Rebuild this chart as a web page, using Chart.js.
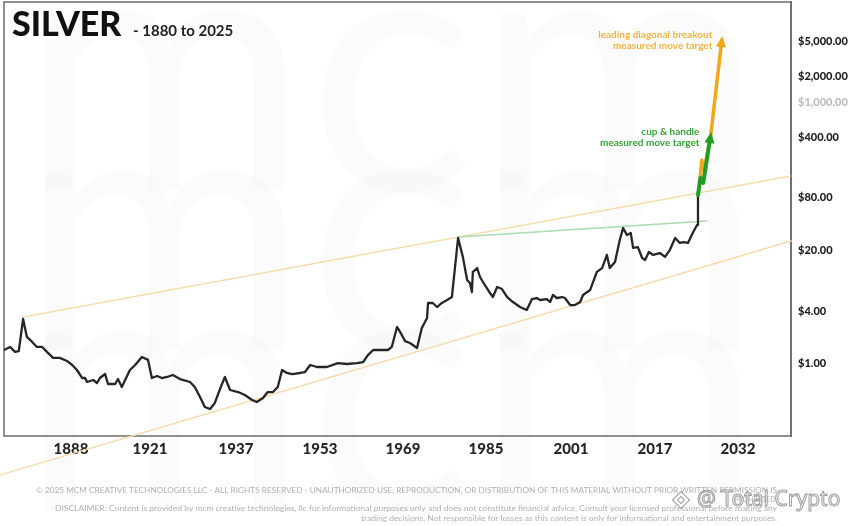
<!DOCTYPE html>
<html>
<head>
<meta charset="utf-8">
<title>Silver 1880 to 2025</title>
<script src="https://cdn.jsdelivr.net/npm/chart.js@4.4.1/dist/chart.umd.min.js"></script>
<style>
  html, body { margin: 0; padding: 0; background: #fff; }
  #wrap { width: 864px; height: 526px; position: relative; }
</style>
</head>
<body>
<div id="wrap"><canvas id="silverChart"></canvas></div>
<script>
// silver price, log scale
const priceYears = [
  1880.0, 1881.3, 1882.3, 1883.1, 1884.0, 1884.8, 1885.9, 1886.9, 1888.0, 1889.0,
  1890.3, 1891.7, 1893.2, 1894.3, 1895.3, 1896.4, 1897.0, 1897.4, 1898.7, 1899.5,
  1900.1, 1901.2, 1901.8, 1903.3, 1903.9, 1904.7, 1905.4, 1906.4, 1907.5, 1908.9,
  1910.2, 1911.0, 1912.1, 1913.1, 1914.2, 1915.4, 1916.9, 1919.0, 1920.0, 1921.1,
  1922.1, 1923.2, 1924.2, 1925.3, 1926.3, 1927.4, 1929.1, 1930.5, 1932.0, 1933.0,
  1934.3, 1935.3, 1936.4, 1937.4, 1938.3, 1939.3, 1940.4, 1942.1, 1943.1, 1944.2,
  1945.6, 1947.7, 1950.0, 1951.9, 1954.0, 1955.3, 1956.3, 1957.4, 1959.2, 1960.5,
  1961.3, 1962.4, 1963.4, 1964.1, 1965.1, 1966.6, 1967.6, 1968.7, 1968.9, 1969.9,
  1970.8, 1971.8, 1972.9, 1973.9, 1975.2, 1976.2, 1977.1, 1977.7, 1978.1, 1978.3,
  1979.2, 1979.8, 1980.8, 1981.9, 1982.5, 1983.4, 1984.4, 1985.5, 1986.7, 1988.2,
  1989.6, 1990.7, 1991.7, 1992.4, 1993.8, 1994.5, 1995.1, 1995.9, 1997.0, 1997.6,
  1998.7, 1999.7, 2000.8, 2001.4, 2002.9, 2004.3, 2005.4, 2006.4, 2007.0, 2008.1,
  2009.1, 2009.8, 2010.6, 2011.4, 2011.9, 2012.9, 2013.8, 2014.4, 2015.2, 2016.1,
  2017.5, 2018.6, 2019.6, 2020.7, 2021.7, 2022.4, 2023.4, 2024.4, 2025.3, 2025.5
];
const priceValues = [
  1.43, 1.55, 1.36, 1.39, 3.25, 2.02, 1.77, 1.55, 1.55, 1.36,
  1.16, 1.16, 1.07, 0.961, 0.842, 0.681, 0.681, 0.613, 0.646, 0.597,
  0.681, 0.757, 0.581, 0.581, 0.663, 0.537, 0.646, 0.842, 0.961, 1.19,
  1.10, 0.681, 0.718, 0.681, 0.700, 0.738, 0.663, 0.613, 0.537, 0.412,
  0.316, 0.300, 0.352, 0.510, 0.700, 0.496, 0.470, 0.434, 0.381, 0.361,
  0.401, 0.470, 0.470, 0.537, 0.842, 0.778, 0.757, 0.778, 0.798, 0.961,
  0.912, 0.912, 1.01, 0.987, 1.01, 1.04, 1.25, 1.43, 1.43, 1.43,
  1.55, 2.63, 2.13, 1.81, 1.72, 1.51, 2.56, 3.33, 4.96, 4.96,
  4.46, 4.96, 5.37, 5.81, 27.7, 16.8, 9.12, 8.42, 6.63, 11.3,
  12.5, 9.87, 7.99, 6.46, 5.81, 7.57, 7.18, 5.81, 5.09, 4.46,
  4.12, 5.51, 5.66, 5.37, 5.51, 5.09, 6.13, 5.66, 5.81, 5.66,
  4.70, 4.70, 5.09, 6.13, 7.00, 11.3, 12.5, 17.7, 12.5, 14.7,
  26.3, 36.1, 30.0, 31.6, 21.3, 21.8, 16.3, 15.5, 19.1, 17.7,
  18.6, 16.8, 20.2, 27.7, 24.3, 24.9, 24.3, 31.6, 39.1, 86.5
];

// cup & handle projection (green) and leading diagonal projection (orange)
const cupYears = [2025.5, 2026.0, 2026.6, 2028.0];
const cupValues = [86.5, 135.6, 118.8, 371];
const diagYears = [2025.9, 2026.3, 2026.8, 2028.2, 2030.4];
const diagValues = [125.2, 218.3, 167.5, 434, 4700];

// trend lines
const upperYears = [1884.0, 2045];
const upperValues = [3.42, 143];
const lowerYears = [1877, 2045];
const lowerValues = [0.0482, 25.6];
const rimYears = [1975.2, 2027.4];
const rimValues = [28.4, 43.4];

// axes
const yTickValues = [1, 4, 20, 80, 400, 1000, 2000, 5000];
const xTickLabels = ['1888', '1921', '1937', '1953', '1969', '1985', '2001', '2017', '2032'];
const xTickAt = [1894.05, 1910.61, 1928.64, 1946.25, 1963.65, 1981.05, 1998.88, 2016.49, 2033.89];

const footerLines = [
  '\u00A9 2025 MCM CREATIVE TECHNOLOGIES LLC - ALL RIGHTS RESERVED - UNAUTHORIZED USE, REPRODUCTION, OR DISTRIBUTION OF THIS MATERIAL WITHOUT PRIOR WRITTEN PERMISSION IS',
  'PROHIBITED.',
  'DISCLAIMER: Content is provided by mcm creative technologies, llc for informational purposes only and does not constitute financial advice. Consult your licensed professional before making any',
  'trading decisions. Not responsible for losses as this content is only for informational and entertainment purposes.'
];

const toPoints = (xs, ys) => xs.map((x, i) => ({ x: x, y: ys[i] }));

// draw a line of text right-aligned and stretched to a given width
function fitText(ctx, text, right, y, width) {
  const w = ctx.measureText(text).width;
  ctx.save();
  ctx.translate(right, y);
  if (width) ctx.scale(width / w, 1);
  ctx.fillText(text, 0, 0);
  ctx.restore();
}

// no extra room for half labels at the axis ends
function noEdgePadding(axis) {
  axis.paddingTop = 0;
  axis.paddingBottom = 0;
  axis.paddingLeft = 0;
  axis.paddingRight = 0;
}

const frame = {
  id: 'frame',
  beforeDatasetsDraw(chart) {
    const { ctx, chartArea: a } = chart;
    ctx.save();
    // faint mcm watermark
    ctx.beginPath();
    ctx.rect(a.left, a.top, a.right - a.left, chart.height - a.top);
    ctx.clip();
    ctx.font = '400 350px Lato';
    ctx.fillStyle = 'rgba(0,0,0,0.015)';
    ctx.textBaseline = 'alphabetic';
    ctx.fillText('mcm', 20, 190);
    ctx.fillText('mcm', 20, 350);
    ctx.fillText('mcm', 20, 510);
    ctx.restore();

    ctx.save();
    ctx.strokeStyle = '#8f8f8f';
    ctx.lineWidth = 2;
    ctx.strokeRect(a.left, a.top, a.right - a.left, a.bottom - a.top);
    ctx.strokeStyle = '#707070';
    ctx.beginPath();
    ctx.moveTo(a.right, a.top - 1);
    ctx.lineTo(a.right, a.bottom + 1);
    ctx.stroke();
    ctx.restore();
  },
  afterDraw(chart) {
    const ctx = chart.ctx;
    ctx.save();
    ctx.textBaseline = 'alphabetic';
    ctx.fillStyle = '#111';
    ctx.font = '900 34px Lato';
    ctx.fillText('SILVER', 12, 36);
    ctx.fillStyle = '#222';
    ctx.font = '700 15px Lato';
    ctx.fillText('- 1880 to 2025', 133, 36);

    // footer
    ctx.fillStyle = '#b0b0b0';
    ctx.textAlign = 'right';
    ctx.textBaseline = 'middle';
    ctx.font = '7px Lato';
    fitText(ctx, footerLines[0], 777, 491, 741);
    fitText(ctx, footerLines[1], 777, 499.5, 0);
    fitText(ctx, footerLines[2], 777, 509, 722);
    fitText(ctx, footerLines[3], 777, 519, 416);

    // watermark
    ctx.textAlign = 'left';
    ctx.font = '21px "Noto Sans"';
    ctx.lineWidth = 1;
    ctx.strokeStyle = '#9c9c9c';
    ctx.fillStyle = 'rgba(255,255,255,0.9)';
    ctx.fillText('@ Total Crypto', 697, 500);
    ctx.strokeText('@ Total Crypto', 697, 500);
    ctx.translate(681, 500);
    ctx.rotate(Math.PI / 4);
    ctx.strokeRect(-6, -6, 12, 12);
    ctx.strokeRect(-2.5, -2.5, 5, 5);
    ctx.restore();
  }
};

const arrows = {
  id: 'arrows',
  afterDatasetsDraw(chart) {
    const ctx = chart.ctx;
    chart.data.datasets.forEach((ds, i) => {
      if (!ds.arrowColor) return;
      const pts = chart.getDatasetMeta(i).data;
      const a = pts[pts.length - 2], b = pts[pts.length - 1];
      const ang = Math.atan2(b.y - a.y, b.x - a.x);
      ctx.save();
      ctx.translate(b.x, b.y);
      ctx.rotate(ang);
      ctx.beginPath();
      ctx.moveTo(8, 0);
      ctx.lineTo(-3, -5);
      ctx.lineTo(-3, 5);
      ctx.closePath();
      ctx.fillStyle = ds.arrowColor;
      ctx.fill();
      ctx.restore();

      ctx.save();
      ctx.font = '700 10px Lato';
      ctx.fillStyle = ds.noteColor;
      ctx.textAlign = 'right';
      ctx.textBaseline = 'middle';
      ds.note.forEach((line, k) => {
        ctx.fillText(line, b.x + ds.noteDx, b.y + ds.noteDy + k * 10.5);
      });
      ctx.restore();
    });
  }
};

function makeChart() {
  new Chart(document.getElementById('silverChart'), {
    type: 'line',
    data: {
      datasets: [
        {
          label: 'cup & handle target',
          data: toPoints(cupYears, cupValues),
          borderColor: '#1f9d27',
          borderWidth: 4,
          arrowColor: '#1f9d27',
          noteColor: '#36a436',
          note: ['cup & handle', 'measured move target'],
          noteDx: -10.5,
          noteDy: -8
        },
        {
          label: 'leading diagonal target',
          data: toPoints(diagYears, diagValues),
          borderColor: '#f2a619',
          borderWidth: 3.5,
          arrowColor: '#f2a619',
          noteColor: '#f0b443',
          note: ['leading diagonal breakout', 'measured move target'],
          noteDx: -9,
          noteDy: -9
        },
        {
          label: 'Silver',
          data: toPoints(priceYears, priceValues),
          borderColor: '#262626',
          borderWidth: 2.3
        },
        {
          label: 'rim',
          data: toPoints(rimYears, rimValues),
          borderColor: '#a9dcae',
          borderWidth: 1.4
        },
        {
          label: 'upper trend',
          data: toPoints(upperYears, upperValues),
          borderColor: '#f6dcae',
          borderWidth: 1.6
        },
        {
          label: 'lower trend',
          data: toPoints(lowerYears, lowerValues),
          borderColor: '#f6dcae',
          borderWidth: 1.6,
          clip: false
        }
      ]
    },
    options: {
      responsive: true,
      maintainAspectRatio: false,
      animation: false,
      events: [],
      layout: { padding: { left: 4, top: 2, right: 0, bottom: 0 } },
      elements: {
        point: { radius: 0 },
        line: { tension: 0, borderJoinStyle: 'round', borderCapStyle: 'round' }
      },
      plugins: {
        legend: { display: false },
        tooltip: { enabled: false }
      },
      scales: {
        x: {
          type: 'linear',
          position: 'bottom',
          min: 1880,
          max: 2045,
          grid: { display: false, drawTicks: false },
          border: { display: false },
          afterBuildTicks: axis => { axis.ticks = xTickAt.map(v => ({ value: v })); },
          afterFit: axis => { axis.height = 90; noEdgePadding(axis); },
          ticks: {
            autoSkip: false,
            maxRotation: 0,
            padding: 4,
            color: '#262626',
            font: { family: 'Lato', weight: '900', size: 15 },
            callback: (v, i) => xTickLabels[i]
          }
        },
        y: {
          type: 'logarithmic',
          position: 'right',
          min: 0.1468,
          max: 14290,
          grid: { display: false, drawTicks: false },
          border: { display: false },
          afterBuildTicks: axis => { axis.ticks = yTickValues.map(v => ({ value: v })); },
          afterFit: axis => { axis.width = 73; noEdgePadding(axis); },
          ticks: {
            padding: 7,
            color: ctx => (ctx.tick && ctx.tick.value === 1000 ? '#bdbdbd' : '#1e1e1e'),
            font: { family: 'Lato', weight: '900', size: 11 },
            callback: v => '$' + v.toLocaleString('en-US', { minimumFractionDigits: 2, maximumFractionDigits: 2 })
          }
        }
      }
    },
    plugins: [frame, arrows]
  });
}

Promise.all([
  document.fonts.load('900 33px Lato'),
  document.fonts.load('700 15px Lato'),
  document.fonts.load('400 40px Lato'),
  document.fonts.load('21px "Noto Sans"')
]).then(makeChart, makeChart);
</script>
</body>
</html>
